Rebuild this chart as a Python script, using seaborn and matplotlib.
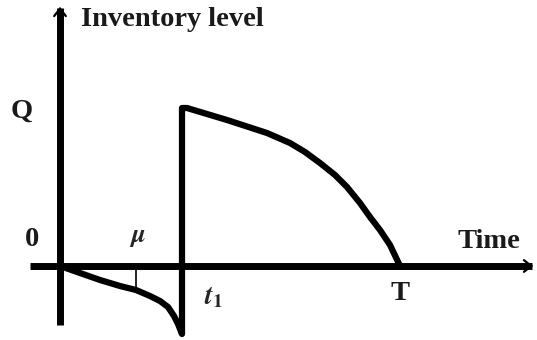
import matplotlib
matplotlib.use("Agg")
import matplotlib.pyplot as plt
import seaborn as sns
import pandas as pd

sns.set_theme(style="white")
plt.rcParams['font.family'] = ['Liberation Serif', 'DejaVu Serif']
plt.rcParams['mathtext.fontset'] = 'stix'

# Inventory curve data (time, level)
shortage_t = [0, 20, 40, 60, 76, 90, 100, 108, 114, 118, 122]
shortage_level = [0, -7, -14, -20, -24, -30, -35, -41, -50, -58, -68]
jump_t = [122, 122]
jump_level = [-68, 158]
stock_t = [122, 127, 167, 207, 230, 245, 260, 275, 287, 300, 310, 320, 330, 340]
stock_level = [158, 158, 146, 133, 123, 114, 103, 91, 79, 63, 49, 36, 21, 0]
mu_t = 76
mu_level = -24
Q = 158
t1 = 122
T = 340

df = pd.DataFrame({
    "t": shortage_t + jump_t + stock_t,
    "level": shortage_level + jump_level + stock_level,
})

fig = plt.figure(figsize=(5.37, 3.4), dpi=100)
ax = fig.add_axes([0, 0, 1, 1])

# axes lines
ax.plot([0, 0], [-59, 258], color="black", lw=5, solid_capstyle="butt")
ax.plot([-30, 472], [0, 0], color="black", lw=5, solid_capstyle="butt")
ax.annotate("", xy=(0, 262), xytext=(0, 245),
            arrowprops=dict(arrowstyle="->,head_width=0.35,head_length=0.45",
                            color="black", lw=1.6))
ax.annotate("", xy=(476, 0), xytext=(460, 0),
            arrowprops=dict(arrowstyle="->,head_width=0.35,head_length=0.45",
                            color="black", lw=1.6))

sns.lineplot(data=df, x="t", y="level", sort=False, estimator=None,
             color="black", lw=4.5, ax=ax)
for ln in ax.lines:
    ln.set_solid_joinstyle("round")
ax.plot([mu_t, mu_t], [0, mu_level], color="black", lw=1.2)

ax.set_xlim(-60, 477)
ax.set_ylim(-74, 266)
ax.axis("off")

fs = 20.5
bold = dict(fontweight="bold", fontsize=fs, ha="center", va="center", color="#1a1a1a")
ax.text(21, 247, "Inventory level", ha="left", va="center", fontsize=fs,
        fontweight="bold", color="#1a1a1a")
ax.text(-38, Q - 3, "Q", **bold)
ax.text(-28, 27, "0", **bold)
ax.text(429, 25, "Time", **bold)
ax.text(T, -27, "T", **bold)
ax.text(77, 28, r"$\boldsymbol{\mu}$", fontsize=19, ha="center", va="center")
ax.text(t1 + 32, -32, r"$\mathbfit{t}_{\mathbf{1}}$", fontsize=20, ha="center", va="center")

fig.savefig("out.png", dpi=100)
